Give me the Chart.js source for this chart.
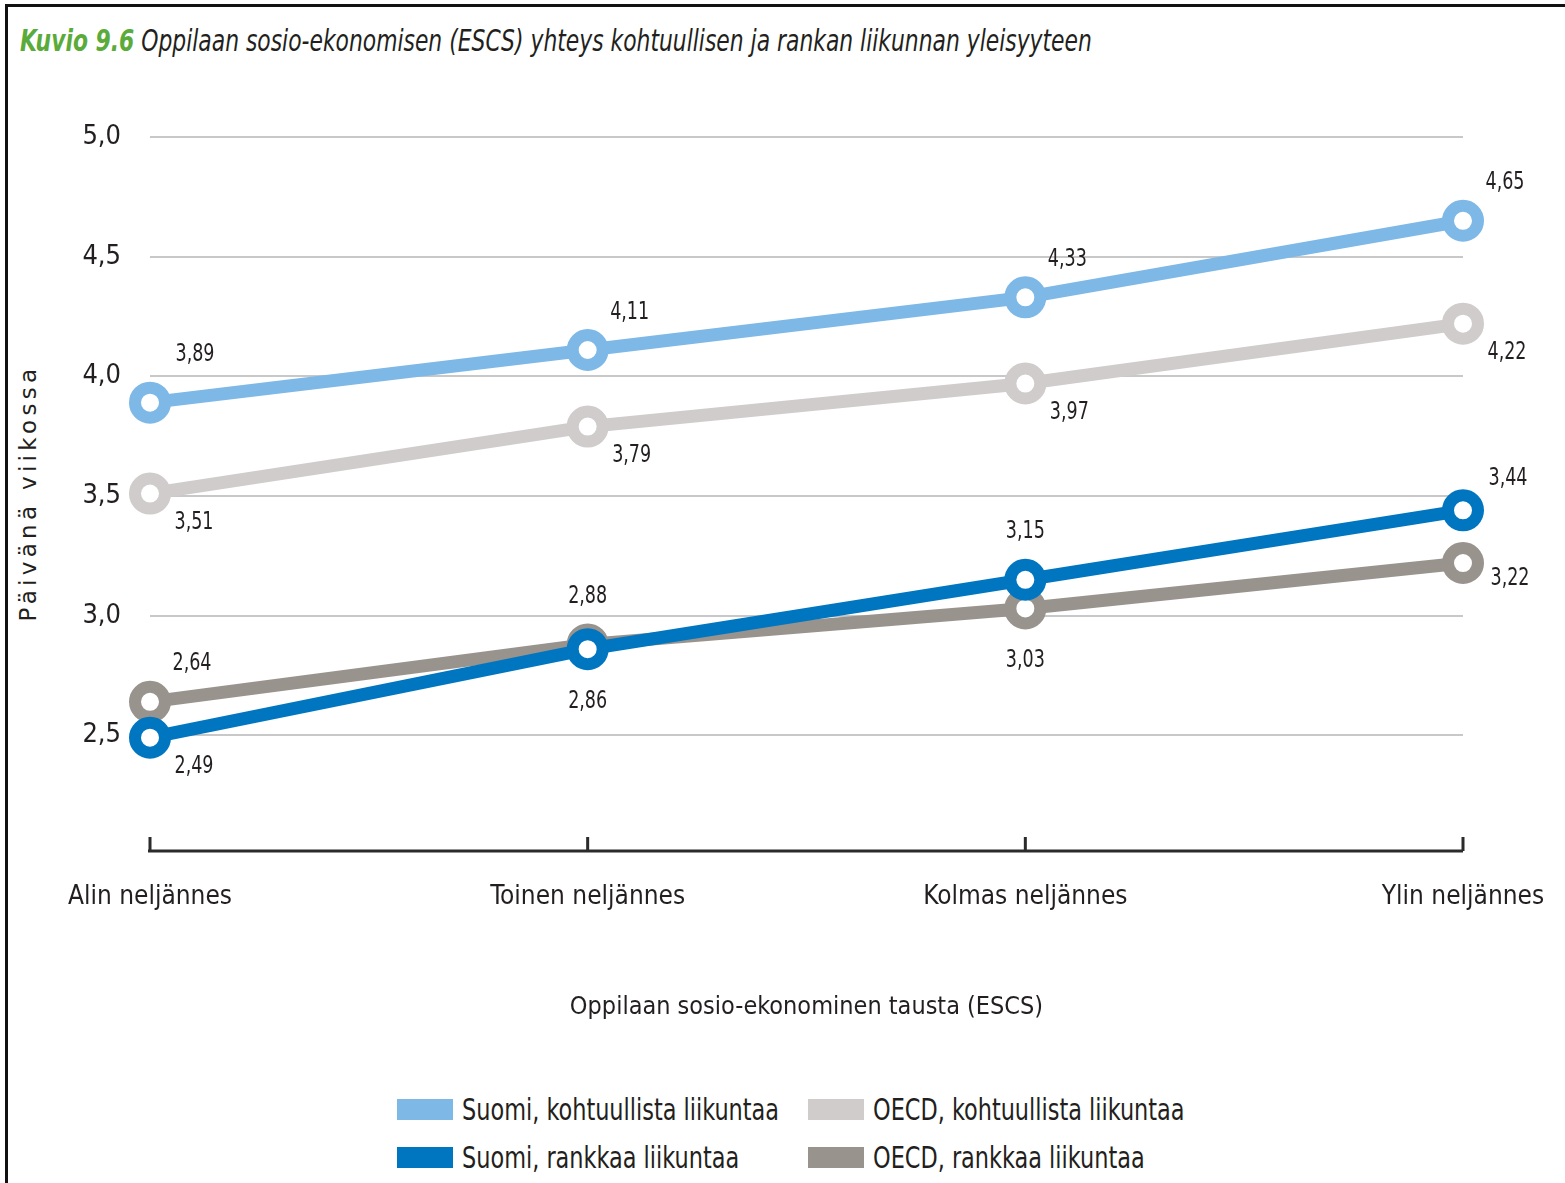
<!DOCTYPE html>
<html>
<head>
<meta charset="utf-8">
<script src="https://cdn.jsdelivr.net/npm/chart.js@4.4.1/dist/chart.umd.min.js"></script>
<style>
  html, body { margin: 0; padding: 0; background: #fff; }
  body { width: 1565px; height: 1183px; position: relative; overflow: hidden;
         font-family: "DejaVu Sans Condensed", "Liberation Sans Narrow", sans-serif; color: #231f20; }
  #frame { position: absolute; left: 5px; top: 4px; width: 1600px; height: 1300px;
           border-left: 3px solid #111; border-top: 3px solid #111; }
  .narrow { display: inline-block; white-space: nowrap; transform-origin: 0 50%; }
  #title { position: absolute; left: 20px; top: 23px; font-size: 30px; font-style: italic;
           transform: scaleX(0.81); }
  #title b { color: #5aab3a; }
  #ytitle { position: absolute; left: 28px; top: 493px; font-family: "DejaVu Sans", sans-serif;
            font-size: 23px; letter-spacing: 4.3px; white-space: nowrap;
            transform: translate(-50%, -50%) rotate(-90deg); }
  #wrap { position: absolute; left: 0; top: 0; width: 1565px; height: 1040px; }
  .item { position: absolute; height: 36px; display: flex; align-items: center; }
  .box { width: 56px; height: 21px; margin-right: 9px; flex-shrink: 0; }
  .item .narrow { font-size: 30px; transform: scaleX(0.83); }
</style>
</head>
<body>
<div id="frame"></div>
<div id="title" class="narrow"><b>Kuvio 9.6</b> Oppilaan sosio-ekonomisen (ESCS) yhteys kohtuullisen ja rankan liikunnan yleisyyteen</div>
<div id="ytitle">Päivänä viikossa</div>
<div id="wrap"><canvas id="chart"></canvas></div>
<div id="legend"></div>
<script>
const categories = ['Alin neljännes', 'Toinen neljännes', 'Kolmas neljännes', 'Ylin neljännes'];

const suomiKohtuullista = [3.89, 4.11, 4.33, 4.65];
const suomiRankkaa = [2.49, 2.86, 3.15, 3.44];
const oecdKohtuullista = [3.51, 3.79, 3.97, 4.22];
const oecdRankkaa = [2.64, 2.88, 3.03, 3.22];

const yTicks = [2.5, 3.0, 3.5, 4.0, 4.5, 5.0];

const FONT = '"DejaVu Sans Condensed", "Liberation Sans Narrow", sans-serif';

// where the value label sits relative to its point
const labelSpots = {
  ur: [42, -38], urHigh: [45, -48], urLow: [45, -32],
  dr: [44, 29], r: [47, 15], u: [0, -48], d: [0, 52]
};

const makeSeries = (label, data, color, spots) => ({
  label: label,
  data: data,
  borderColor: color,
  backgroundColor: color,
  borderWidth: 13,
  pointRadius: 15,
  pointHoverRadius: 15,
  pointBorderWidth: 12,
  pointBorderColor: color,
  pointBackgroundColor: '#fff',
  tension: 0,
  clip: false,
  spots: spots,
});

const datasets = [
  makeSeries('Suomi, kohtuullista liikuntaa', suomiKohtuullista, '#7db8e7', ['urHigh', 'ur', 'ur', 'ur']),
  makeSeries('Suomi, rankkaa liikuntaa', suomiRankkaa, '#0076c0', ['dr', 'd', 'u', 'urLow']),
  makeSeries('OECD, kohtuullista liikuntaa', oecdKohtuullista, '#cfcccb', ['dr', 'dr', 'dr', 'dr']),
  makeSeries('OECD, rankkaa liikuntaa', oecdRankkaa, '#99938e', ['ur', 'u', 'd', 'r']),
];

const valueLabels = {
  id: 'valueLabels',
  afterDatasetsDraw(chart) {
    const ctx = chart.ctx;
    chart.data.datasets.forEach((ds, i) => {
      chart.getDatasetMeta(i).data.forEach((pt, j) => {
        const off = labelSpots[ds.spots[j]];
        ctx.save();
        ctx.font = '25px ' + FONT;
        ctx.fillStyle = '#231f20';
        ctx.textAlign = 'center';
        ctx.textBaseline = 'middle';
        ctx.translate(pt.x + off[0], pt.y + off[1]);
        ctx.scale(0.78, 1);
        ctx.fillText(ds.data[j].toFixed(2).replace('.', ','), 0, 0);
        ctx.restore();
      });
    });
  }
};

// bottom axis line with ticks pointing up
const axisLine = {
  id: 'axisLine',
  afterDraw(chart) {
    const {ctx, chartArea} = chart;
    const x = chart.scales.x;
    const y = chartArea.bottom - 4;
    ctx.save();
    ctx.strokeStyle = '#2b2b2b';
    ctx.lineWidth = 3;
    ctx.beginPath();
    ctx.moveTo(chartArea.left - 2, y);
    ctx.lineTo(chartArea.right, y);
    categories.forEach((c, i) => {
      const px = x.getPixelForValue(i);
      ctx.moveTo(px, y);
      ctx.lineTo(px, y - 14);
    });
    ctx.stroke();
    ctx.restore();
  }
};

new Chart(document.getElementById('chart'), {
  type: 'line',
  data: { labels: categories, datasets: datasets },
  plugins: [valueLabels, axisLine],
  options: {
    responsive: true,
    maintainAspectRatio: false,
    animation: false,
    layout: { padding: { top: 137, right: 102, left: 0, bottom: 14 } },
    plugins: { legend: { display: false }, tooltip: { enabled: false } },
    scales: {
      x: {
        offset: false,
        grid: { display: false, drawTicks: false },
        border: { display: false },
        ticks: { padding: 27, color: '#231f20', font: { family: FONT, size: 26 }, maxRotation: 0 },
        title: { display: true, text: 'Oppilaan sosio-ekonominen tausta (ESCS)', color: '#231f20',
                 font: { family: FONT, size: 25 } },
        afterFit: s => { s.height = 1040 - 14 - 855; s.paddingLeft = 0; s.paddingRight = 0; },
      },
      y: {
        min: 2,
        max: 5,
        afterBuildTicks: s => { s.ticks = yTicks.map(v => ({value: v})); },
        grid: { color: '#c8c8c8', lineWidth: 2, drawTicks: false },
        border: { display: false },
        ticks: { padding: 29, color: '#231f20', font: { family: FONT, size: 27 },
                 callback: v => v.toFixed(1).replace('.', ',') },
        afterFit: s => { s.width = 150; },
      }
    }
  }
});

// legend, two columns
const legendSpots = [[397, 1091], [397, 1139], [808, 1091], [808, 1139]];
datasets.forEach((ds, i) => {
  const item = document.createElement('div');
  item.className = 'item';
  item.style.left = legendSpots[i][0] + 'px';
  item.style.top = legendSpots[i][1] + 'px';
  item.innerHTML = '<span class="box" style="background:' + ds.borderColor + '"></span>' +
    '<span class="narrow">' + ds.label + '</span>';
  document.getElementById('legend').appendChild(item);
});
</script>
</body>
</html>
